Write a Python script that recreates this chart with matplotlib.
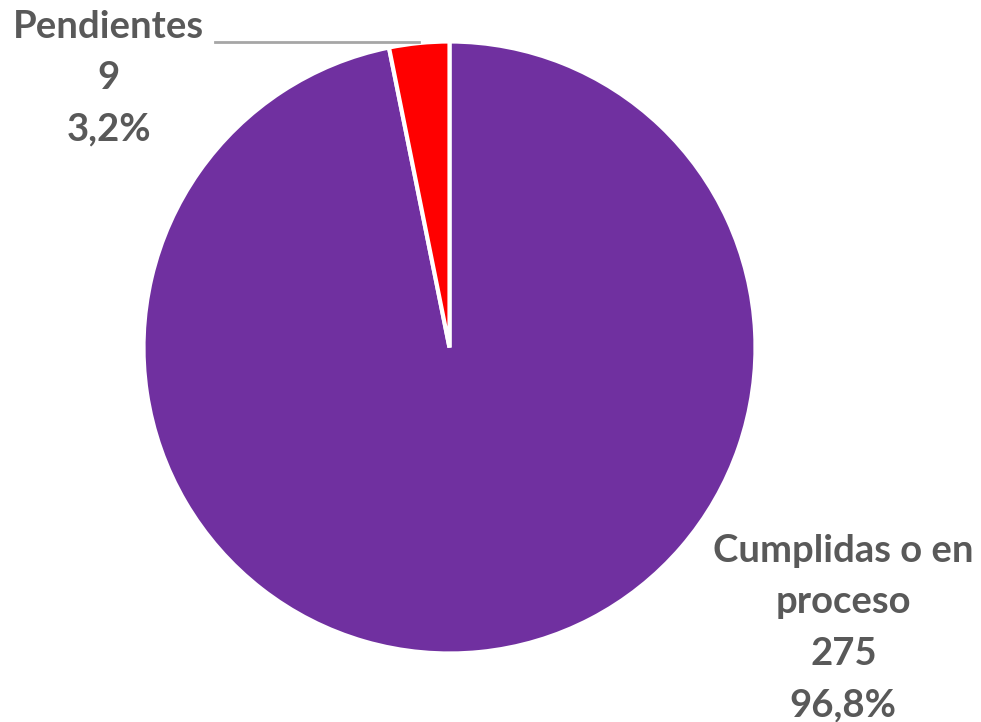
import numpy as np
import matplotlib.pyplot as plt

labels = ['Cumplidas o en\nproceso', 'Pendientes']
values = [275, 9]
colors = ['#7030A0', '#FF0000']

plt.rcParams['font.family'] = ['Lato', 'DejaVu Sans']

fig = plt.figure(figsize=(9.81, 7.22), dpi=100)
# pie centre ~ (449.5, 347.5) px, radius ~306 px
ax = fig.add_axes([143.5 / 981, 68.5 / 722, 612 / 981, 612 / 722])

wedges, _ = ax.pie(values, colors=colors, startangle=90, counterclock=False,
                   radius=1, wedgeprops=dict(edgecolor='white', linewidth=3))
ax.set_xlim(-1, 1)
ax.set_ylim(-1, 1)
ax.set_aspect('equal')
ax.axis('off')

total = sum(values)
txt = [f"{l}\n{v}\n{v / total * 100:.1f}%".replace('.', ',') for l, v in zip(labels, values)]

text_color = '#595959'
ax.text(1.287, -0.917, txt[0], ha='center', va='center', fontsize=27.5,
        fontweight='bold', color=text_color, linespacing=1.62, clip_on=False)
ax.text(-1.113, 0.88, txt[1], ha='center', va='center', fontsize=27.5,
        fontweight='bold', color=text_color, linespacing=1.62, clip_on=False)

# leader line to the small slice
w = wedges[1]
mid = np.deg2rad((w.theta1 + w.theta2) / 2)
ax.plot([-0.766, np.cos(mid)], [1.0, 1.0], color='#A6A6A6',
        lw=2, clip_on=False)

fig.savefig('out.png', dpi=100)
